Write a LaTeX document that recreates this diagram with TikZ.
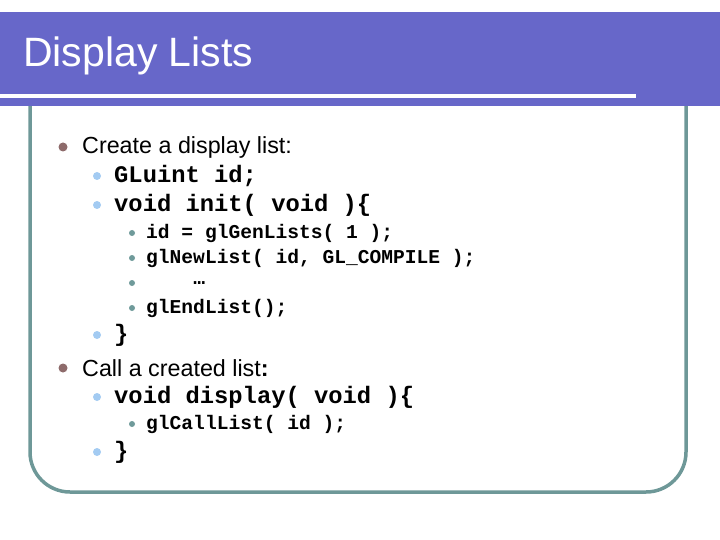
\documentclass[tikz,border=0pt]{standalone}
\usepackage{fontspec}
\setmainfont{Liberation Sans}
\setmonofont{Liberation Mono}
\usepackage{tikz}
\definecolor{band}{HTML}{6767C9}
\definecolor{frame}{HTML}{6E9898}
\definecolor{dotone}{HTML}{8E6B6B}
\definecolor{dottwo}{HTML}{A3CBF2}
\definecolor{dotthree}{HTML}{6F9A9A}

\begin{document}
\begin{tikzpicture}
  [x=1pt,y=-1pt,
    lone/.style={anchor=west,inner sep=0pt,font=\fontsize{23.3}{25}\selectfont},
    ltwo/.style={anchor=west,inner sep=0pt,font=\fontsize{23.8}{25}\ttfamily\bfseries},
    lthree/.style={anchor=west,inner sep=0pt,font=\fontsize{19.6}{21}\ttfamily\bfseries},
    bone/.style={circle,fill=dotone,inner sep=0pt,minimum size=9pt},
    btwo/.style={circle,fill=dottwo,inner sep=0pt,minimum size=8pt},
    bthree/.style={circle,fill=dotthree,inner sep=0pt,minimum size=6pt}]
  \useasboundingbox (0,0) rectangle (720,540);
  % frame and header
  \draw[frame,line width=3.5pt,rounded corners=40pt] (30,100) -- (30,492) -- (686,492) -- (686,100);
  \fill[band] (0,12) rectangle (720,106);
  \draw[white,line width=4pt] (0,96) -- (636,96);
  \node[anchor=west,inner sep=0pt,text=white,font=\fontsize{41}{43}\selectfont] (title) at (23,56) {Display Lists};
  % first item
  \node[bone] (b1) at (63,147) {};
  \node[lone] (create) at (82,147) {Create a display list:};
  \node[btwo] (b2) at (97,176) {};
  \node[ltwo] (gluint) at (114,176) {GLuint id;};
  \node[btwo] (b3) at (97,205) {};
  \node[ltwo] (init) at (114,205) {void init( void )\{};
  \node[bthree] (b4) at (132,233) {};
  \node[lthree] (gen) at (146,233) {id = glGenLists( 1 );};
  \node[bthree] (b5) at (132,258) {};
  \node[lthree] (new) at (146,258) {glNewList( id, GL\_COMPILE );};
  \node[bthree] (b6) at (132,283) {};
  \node[lthree] (dots) at (146,283) {\ \ \ \ …};
  \node[bthree] (b7) at (132,308) {};
  \node[lthree] (end) at (146,308) {glEndList();};
  \node[btwo] (b8) at (97,335) {};
  \node[ltwo] (close1) at (114,335) {\}};
  % second item
  \node[bone] (b9) at (63,368) {};
  \node[lone] (call) at (82,368) {Call a created list\textbf{:}};
  \node[btwo] (b10) at (97,397) {};
  \node[ltwo] (disp) at (114,397) {void display( void )\{};
  \node[bthree] (b11) at (132,424) {};
  \node[lthree] (calllist) at (146,424) {glCallList( id );};
  \node[btwo] (b12) at (97,452) {};
  \node[ltwo] (close2) at (114,452) {\}};
\end{tikzpicture}
\end{document}
